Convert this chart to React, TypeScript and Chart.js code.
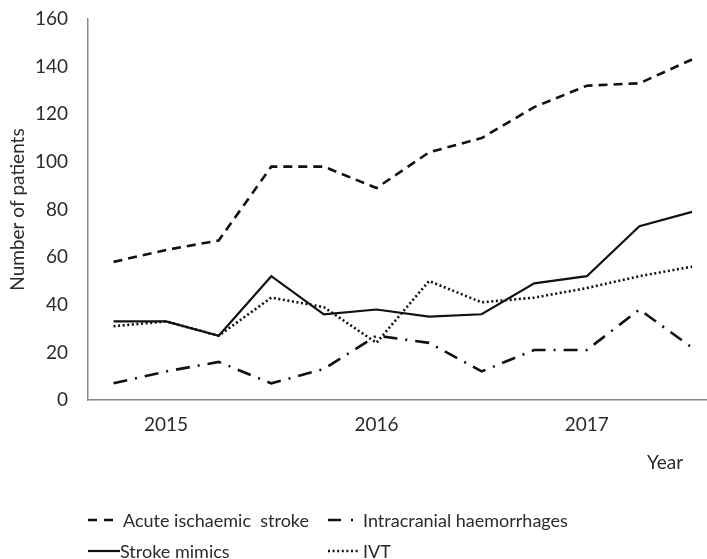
import React, { useEffect, useRef } from 'react';
import { Chart, registerables } from 'chart.js';

Chart.register(...registerables);

// Period labels (only some periods carry a year label on the axis)
const periodLabels = ['', '2015', '', '', '', '2016', '', '', '', '2017', '', ''];

const acuteIschaemicStroke = [58, 63, 67, 98, 98, 89, 104, 110, 123, 132, 133, 143];
const intracranialHaemorrhages = [7, 12, 16, 7, 13, 27, 24, 12, 21, 21, 38, 22];
const strokeMimics = [33, 33, 27, 52, 36, 38, 35, 36, 49, 52, 73, 79];
const ivt = [31, 33, 27, 43, 39, 24, 50, 41, 43, 47, 52, 56];

const yMin = 0;
const yMax = 160;
const yStep = 20;

const seriesNames = [
  'Acute ischaemic  stroke',
  'Intracranial haemorrhages',
  'Stroke mimics',
  'IVT',
];

const FONT = 'Lato, "DejaVu Sans", sans-serif';
const TEXT_COLOR = '#2b2b2b';
const LINE_COLOR = '#111111';
const AXIS_COLOR = '#8a8a8a';

const dashAcute = [9, 6];
const dashICH = [14, 8, 2, 8];
const dashIVT = [2, 2.6];

function toPoints(values: number[]) {
  return values.map((v, i) => ({ x: i, y: v }));
}

export default function App() {
  const canvasRef = useRef<HTMLCanvasElement | null>(null);

  useEffect(() => {
    const canvas = canvasRef.current;
    if (!canvas) return;
    const common = {
      borderColor: LINE_COLOR,
      borderWidth: 2.6,
      pointRadius: 0,
      tension: 0,
      fill: false,
    };
    const chart = new Chart(canvas, {
      type: 'line',
      data: {
        datasets: [
          { ...common, label: seriesNames[0], data: toPoints(acuteIschaemicStroke), borderDash: dashAcute },
          { ...common, label: seriesNames[1], data: toPoints(intracranialHaemorrhages), borderDash: dashICH },
          { ...common, label: seriesNames[2], data: toPoints(strokeMimics), borderWidth: 2.2 },
          { ...common, label: seriesNames[3], data: toPoints(ivt), borderDash: dashIVT, borderWidth: 2.6 },
        ],
      },
      options: {
        animation: false,
        responsive: false,
        maintainAspectRatio: false,
        layout: { padding: { top: 19, left: 0, right: 0, bottom: 0 } },
        plugins: {
          legend: { display: false },
          tooltip: { enabled: false },
        },
        scales: {
          x: {
            type: 'linear',
            min: -0.485,
            max: 11.285,
            grid: { display: false, drawTicks: false },
            border: { display: true, color: AXIS_COLOR, width: 1.5 },
            afterBuildTicks: (scale: any) => {
              scale.ticks = periodLabels
                .map((l, i) => (l ? { value: i } : null))
                .filter(Boolean);
            },
            afterFit: (scale: any) => {
              scale.height = 159;
              scale.paddingLeft = 0;
              scale.paddingRight = 0;
            },
            ticks: {
              autoSkip: false,
              maxRotation: 0,
              padding: 13,
              color: TEXT_COLOR,
              font: { family: FONT, size: 19 },
              callback: (v: any) => periodLabels[Math.round(Number(v))] ?? '',
            },
          },
          y: {
            min: yMin,
            max: yMax,
            grid: { display: false, drawTicks: false },
            border: { display: true, color: AXIS_COLOR, width: 1.5 },
            afterFit: (scale: any) => {
              scale.width = 88;
              scale.paddingTop = 0;
              scale.paddingBottom = 0;
            },
            ticks: {
              stepSize: yStep,
              padding: 20,
              color: TEXT_COLOR,
              font: { family: FONT, size: 19 },
            },
            title: {
              display: true,
              text: 'Number of patients',
              color: TEXT_COLOR,
              font: { family: FONT, size: 19 },
              padding: { top: 6, bottom: 0 },
            },
          },
        },
      } as any,
    });
    return () => chart.destroy();
  }, []);

  const textStyle = (left: number, centerY: number, size = 18): React.CSSProperties => ({
    position: 'absolute',
    left,
    top: centerY - 11,
    height: 22,
    lineHeight: '22px',
    fontFamily: FONT,
    fontSize: size,
    color: TEXT_COLOR,
    whiteSpace: 'pre',
  });

  const symbol = (left: number, centerY: number, width: number, dash: number[] | null, sw: number) => (
    <svg
      style={{ position: 'absolute', left, top: centerY - 3, overflow: 'visible' }}
      width={width}
      height={6}
    >
      <line
        x1={0}
        y1={3}
        x2={width}
        y2={3}
        stroke={LINE_COLOR}
        strokeWidth={sw}
        strokeDasharray={dash ? dash.join(' ') : undefined}
      />
    </svg>
  );

  return (
    <div style={{ position: 'absolute', left: 0, top: 0, width: 707, height: 559, background: '#fff' }}>
      <canvas ref={canvasRef} width={707} height={559} style={{ display: 'block', width: 707, height: 559 }} />
      <div style={textStyle(647, 462, 19)}>Year</div>
      {symbol(88, 520, 25, [9, 7], 2.6)}
      <div style={textStyle(123, 520)}>{seriesNames[0]}</div>
      {symbol(328, 520, 27, [13, 10, 2, 100], 2.6)}
      <div style={textStyle(363, 520)}>{seriesNames[1]}</div>
      {symbol(88, 551, 32, null, 2.2)}
      <div style={textStyle(120, 551)}>{seriesNames[2]}</div>
      {symbol(328, 551, 32, [2, 2.6], 2.6)}
      <div style={textStyle(363, 551)}>{seriesNames[3]}</div>
    </div>
  );
}
